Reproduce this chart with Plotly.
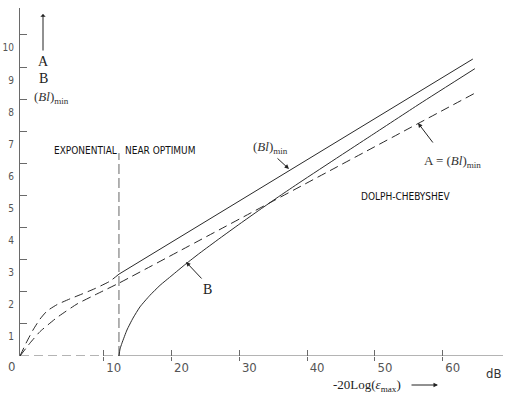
import plotly.graph_objects as go

# ---------------- data ----------------
# exponential (upper dashed) branch, joins (Bl)_min line at the boundary
x_exp_upper = [-2.36, -1.47, -0.44, 0.59, 1.62, 3.10, 5.01, 6.78, 8.70, 10.91, 12.24]
y_exp_upper = [0.0, 0.40, 0.81, 1.15, 1.40, 1.60, 1.78, 1.93, 2.10, 2.33, 2.55]

# A = (Bl)_min  (dashed, Dolph-Chebyshev)
x_a = [-2.36, -0.88, 0.59, 3.10, 6.05, 9.44, 12.24, 65.04]
y_a = [0.0, 0.405, 0.76, 1.20, 1.62, 1.98, 2.27, 8.22]

# (Bl)_min  (upper solid line, near optimum)
x_blmin = [12.24, 64.45]
y_blmin = [2.55, 9.25]

# B  (lower solid curve)
x_b = [12.24, 12.40, 12.68, 13.42, 14.31, 15.34, 16.81, 18.29, 20.06, 22.12,
       24.19, 27.14, 30.09, 33.04, 35.99, 38.94, 44.84, 49.26, 56.64, 64.75]
y_b = [0.0, 0.22, 0.40, 0.81, 1.18, 1.53, 1.89, 2.20, 2.51, 2.87,
       3.21, 3.67, 4.12, 4.56, 4.99, 5.41, 6.23, 6.84, 7.86, 8.95]

x_tickvals = [10, 20, 30, 40, 50, 60]
x_ticktext = ["10", "20", "30", "40", "50", "60"]
y_tickvals = [1, 2, 3, 4, 5, 6, 7, 8, 9, 10]
y_ticktext = ["1", "2", "3", "4", "5", "6", "7", "8", "9", "10"]

# ---------------- layout constants ----------------
X_MIN, X_MAX = -2.36, 68.9
Y_MIN, Y_MAX = 0.0, 10.84
W, H = 505, 403
ML, MR, MT, MB = 20, 2, 8, 47
PW, PH = W - ML - MR, H - MT - MB


def px_x(px):
    return (px - ML) / PW


def px_y(py):
    return (MT + PH - py) / PH


LINE = "#2a2a2a"
AXIS = "#6a6a6a"
SERIF = "Liberation Serif, Times New Roman, serif"
NARROW = "Liberation Sans Narrow, Arial Narrow, DejaVu Sans Condensed, Liberation Sans, sans-serif"
DASH = "9px,5px"

fig = go.Figure()

# x-axis baseline: dashed up to start of B, solid afterwards
b_start = x_b[0]
fig.add_trace(go.Scatter(x=[X_MIN, b_start], y=[0, 0], mode="lines",
                         line=dict(color=AXIS, width=1.2, dash=DASH), hoverinfo="skip"))
fig.add_trace(go.Scatter(x=[b_start, X_MAX], y=[0, 0], mode="lines",
                         line=dict(color=AXIS, width=1.2), hoverinfo="skip"))

# vertical dashed separator (exponential | near optimum)
fig.add_trace(go.Scatter(x=[b_start, b_start], y=[0, 6.32], mode="lines",
                         line=dict(color="#666", width=1, dash="10px,4px"), hoverinfo="skip"))

fig.add_trace(go.Scatter(x=x_exp_upper, y=y_exp_upper, mode="lines",
                         line=dict(color=LINE, width=1, dash=DASH, shape="spline", smoothing=0.5),
                         name="exp"))
fig.add_trace(go.Scatter(x=x_a, y=y_a, mode="lines",
                         line=dict(color=LINE, width=1, dash=DASH, shape="spline", smoothing=0.4),
                         name="A"))
fig.add_trace(go.Scatter(x=x_blmin, y=y_blmin, mode="lines",
                         line=dict(color=LINE, width=1), name="(Bl)min"))
fig.add_trace(go.Scatter(x=x_b, y=y_b, mode="lines",
                         line=dict(color=LINE, width=1, shape="spline", smoothing=0.5), name="B"))

# invisible trace on overlay axis so crossing tick marks are drawn
fig.add_trace(go.Scatter(x=[X_MIN, X_MAX], y=[0, 0], xaxis="x2", mode="lines",
                         line=dict(width=0), hoverinfo="skip", showlegend=False))

fig.update_layout(
    width=W, height=H, margin=dict(l=ML, r=MR, t=MT, b=MB, autoexpand=False),
    paper_bgcolor="white", plot_bgcolor="white", showlegend=False,
    xaxis=dict(range=[X_MIN, X_MAX], showline=False, showgrid=False, zeroline=False,
               automargin=False,
               tickvals=x_tickvals, ticktext=x_ticktext, ticks="inside", ticklen=6,
               tickcolor=AXIS, tickwidth=1.2, ticklabelshift=10, ticklabelstandoff=2,
               tickfont=dict(family=NARROW, size=13, color="#555")),
    xaxis2=dict(range=[X_MIN, X_MAX], overlaying="x", matches="x", anchor="y",
                showline=False, showgrid=False, zeroline=False, automargin=False,
                tickvals=x_tickvals, ticks="outside", ticklen=4, tickcolor=AXIS,
                tickwidth=1.2, showticklabels=False),
    yaxis=dict(range=[Y_MIN, Y_MAX], showline=True, linecolor=AXIS, linewidth=1.2,
               showgrid=False, zeroline=False, automargin=False,
               tickvals=y_tickvals, ticktext=y_ticktext,
               ticks="inside", ticklen=7, tickcolor=AXIS, tickwidth=1.2,
               ticklabelshift=13, ticklabelstandoff=3,
               tickfont=dict(family=NARROW, size=10, color="#555")),
)

ann = []


def text(px, py, s, font, size, color="#222", xanchor="center"):
    ann.append(dict(xref="paper", yref="paper", x=px_x(px), y=px_y(py), text=s,
                    showarrow=False, xanchor=xanchor, yanchor="middle",
                    font=dict(family=font, size=size, color=color)))


def arrow(tail, tip, head=2):
    ann.append(dict(xref="paper", yref="paper", x=px_x(tip[0]), y=px_y(tip[1]),
                    axref="pixel", ayref="pixel",
                    ax=tail[0] - tip[0], ay=tail[1] - tip[1],
                    text="", showarrow=True, arrowhead=head, arrowsize=0.9,
                    arrowwidth=1, arrowcolor="#222"))


text(11, 366, "0", NARROW, 13, "#555")
text(43, 62, "A", SERIF, 14)
text(43, 79, "B", SERIF, 14)
text(51, 97, "(<i>Bl</i>)<sub>min</sub>", SERIF, 13, "#333")
arrow((43, 52), (43, 14), head=1)

text(85, 150, "EXPONENTIAL", NARROW, 10, "#111")
text(160, 150, "NEAR OPTIMUM", NARROW, 10, "#111")
text(405, 196, "DOLPH-CHEBYSHEV", NARROW, 10, "#111")

text(270, 148, "(<i>Bl</i>)<sub>min</sub>", SERIF, 13, "#333")
arrow((276, 157), (289, 169))

text(452, 161, "A = (<i>Bl</i>)<sub>min</sub>", SERIF, 13, "#333")
arrow((434, 144), (418, 123))

text(207, 289, "B", SERIF, 14)
arrow((203, 280), (186, 262))

text(503, 373, "dB", NARROW, 13, "#333", xanchor="right")
text(367, 385, "-20Log(<i>ε</i><sub>max</sub>)", SERIF, 13, "#222")
arrow((410, 385), (438, 385), head=2)

fig.update_layout(annotations=ann)
fig.write_html("out.html", config={"displayModeBar": False},
               post_script="document.body.style.margin='0';document.body.style.padding='0';")
